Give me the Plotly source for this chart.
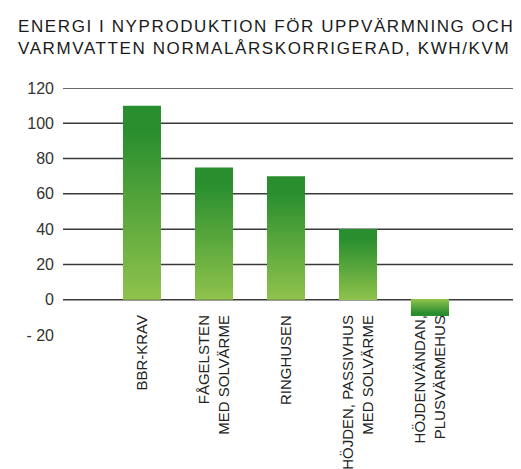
import plotly.graph_objects as go
import numpy as np

# ---- data ----
categories = [
    "BBR-KRAV",
    "FÅGELSTEN<br>MED SOLVÄRME",
    "RINGHUSEN",
    "HÖJDEN, PASSIVHUS<br>MED SOLVÄRME",
    "HÖJDENVÄNDAN,<br>PLUSVÄRMEHUS",
]
values = [110, 75, 70, 40, -9]
y_tick_values = [-20, 0, 20, 40, 60, 80, 100, 120]
y_tick_labels = ["- 20", "0", "20", "40", "60", "80", "100", "120"]
grid_values = [0, 20, 40, 60, 80, 100, 120]
title_text = "ENERGI I NYPRODUKTION FÖR UPPVÄRMNING OCH<br>VARMVATTEN NORMALÅRSKORRIGERAD, KWH/KVM"

# ---- style ----
light = np.array([143, 194, 76])
dark = np.array([40, 142, 46])
N = 60

fig = go.Figure()
vals = np.array(values, dtype=float)
for i in range(N):
    t = (i + 0.5) / N
    s = min(1.0, t / 0.88)
    c = light + (dark - light) * s
    col = "rgb(%d,%d,%d)" % tuple(c.round().astype(int))
    seg = (min(i + 1.6, N) - i) / N
    fig.add_trace(go.Bar(
        x=categories, y=vals * seg, base=vals * i / N,
        marker=dict(color=col, line=dict(width=0)),
        width=0.528, cliponaxis=False, hoverinfo="skip", showlegend=False,
    ))

shapes = [dict(type="line", xref="paper", x0=0, x1=1, yref="y", y0=g, y1=g,
               line=dict(color="#3a3a3a", width=1.5), layer="below") for g in grid_values]

fig.update_layout(
    width=521, height=469,
    margin=dict(l=63, r=8, t=88, b=134, autoexpand=False),
    paper_bgcolor="white", plot_bgcolor="white",
    barmode="overlay",
    shapes=shapes,
    font=dict(family="Liberation Sans, Arial, sans-serif", color="#222"),
    xaxis=dict(
        type="category", range=[-1.097, 5.153],
        anchor="free", position=0.097, automargin=False,
        showgrid=False, zeroline=False, showline=False, ticks="",
        tickangle=-90, tickfont=dict(size=15, color="#222"),
    ),
    yaxis=dict(
        range=[-20, 120], tickvals=y_tick_values, ticktext=y_tick_labels,
        automargin=False,
        showgrid=False, zeroline=False, showline=False, ticks="",
        ticklabelstandoff=8,
        tickfont=dict(size=16, color="#333"),
    ),
    annotations=[dict(
        text=title_text, xref="paper", yref="paper",
        x=(16 - 63) / 450, y=1 + (88 - 15) / 247,
        xanchor="left", yanchor="top", align="left", showarrow=False,
        font=dict(size=17, color="#1a1a1a", family="Liberation Sans, Arial, sans-serif"),
    )],
)

post = """
document.querySelectorAll('.annotation-text').forEach(function(e){e.style.letterSpacing='1.6px';});
"""
fig.write_html("out.html", post_script=post)
